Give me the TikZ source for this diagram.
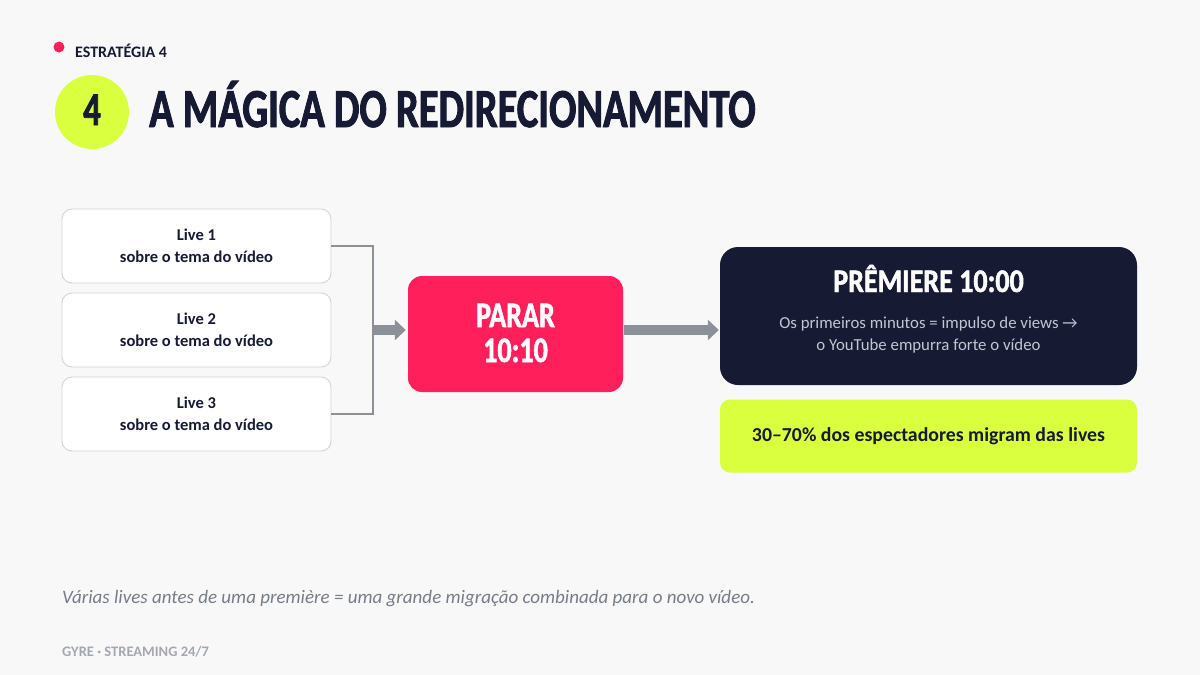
\documentclass[tikz,border=0pt]{standalone}
\usepackage{fontspec}
\setmainfont{Carlito}
\newfontfamily\condT[FakeStretch=0.736,FakeBold=1.6]{Carlito}
\newfontfamily\condP[FakeStretch=0.78,FakeBold=1.4]{Carlito}
\newfontfamily\condQ[FakeStretch=0.85,FakeBold=1.4]{Carlito}
\usetikzlibrary{arrows.meta}
\definecolor{bgc}{HTML}{F8F8F9}
\definecolor{navy}{HTML}{161A33}
\definecolor{redc}{HTML}{FF1F5A}
\definecolor{lime}{HTML}{DAFF3E}
\definecolor{boxline}{HTML}{D2D4D8}
\definecolor{conn}{HTML}{8C9098}
\definecolor{subtxt}{HTML}{C3C6D2}
\definecolor{foot}{HTML}{777C88}
\definecolor{brand}{HTML}{A3A7B0}
\tikzset{
  livebox/.style={draw=boxline, line width=0.9pt, fill=white, rounded corners=10pt, minimum width=269pt, minimum height=74pt, align=center, font=\bfseries\fontsize{16.5}{22}\selectfont, text=navy, inner sep=0pt},
  thinconn/.style={draw=conn, line width=1.6pt},
  fatarrow/.style={draw=conn, line width=10pt, -{Triangle[length=11pt,width=20pt]}},
  stoptxt/.style={inner sep=0pt, anchor=base, text=white, font=\condP\bfseries\fontsize{36}{36}\selectfont},
}
\begin{document}
\begin{tikzpicture}[x=1pt,y=-1pt]
\useasboundingbox (0,0) rectangle (1200,675);
\fill[bgc] (0,0) rectangle (1200,675);
% header
\fill[redc] (59,47) circle (5.5);
\node[anchor=west, inner sep=0pt, text=navy, font=\bfseries\fontsize{16}{16}\selectfont] (kicker) at (75,51) {ESTRATÉGIA 4};
\fill[lime] (92,112) circle (37);
\node[inner sep=0pt, anchor=base, text=navy, font=\condT\bfseries\fontsize{47}{47}\selectfont] (num) at (92,125) {4};
\node[anchor=base west, inner sep=0pt, text=navy, font=\condT\bfseries\fontsize{55}{55}\selectfont] (title) at (149,127) {A MÁGICA DO REDIRECIONAMENTO};
% live boxes
\node[livebox] (l1) at (196.5,246) {Live 1\\sobre o tema do vídeo};
\node[livebox] (l2) at (196.5,330) {Live 2\\sobre o tema do vídeo};
\node[livebox] (l3) at (196.5,414) {Live 3\\sobre o tema do vídeo};
\coordinate (jt) at (373,246);
\coordinate (jb) at (373,414);
\coordinate (jm) at (373,330);
\draw[thinconn] (l1.east) -- (jt) -- (jb) -- (l3.east);
% red box
\node[fill=redc, rounded corners=14pt, minimum width=215pt, minimum height=116pt, inner sep=0pt] (stop) at (515.5,334) {};
\node[stoptxt] (stop1) at (515.5,327) {PARAR};
\node[stoptxt] (stop2) at (515.5,362) {10:10};
\draw[fatarrow] (jm) -- ([xshift=-2pt]stop.west |- jm);
% navy box
\node[fill=navy, rounded corners=18pt, minimum width=417pt, minimum height=138pt, inner sep=0pt] (prem) at (928.5,316) {};
\node[inner sep=0pt, anchor=base, text=white, font=\condQ\bfseries\fontsize{33}{33}\selectfont] (premt) at (928.5,292) {PRÊMIERE 10:00};
\node[inner sep=0pt, text=subtxt, align=center, font=\fontsize{16.8}{22}\selectfont] (prems) at (928.5,335) {Os primeiros minutos = impulso de views →\\o YouTube empurra forte o vídeo};
\draw[fatarrow] ([xshift=1pt]stop.east |- jm) -- ([xshift=-1pt]prem.west |- jm);
% lime box
\node[fill=lime, rounded corners=10pt, minimum width=417pt, minimum height=73pt, inner sep=0pt, text=navy, font=\bfseries\fontsize{19.8}{22}\selectfont] (mig) at (928.5,436) {30–70\% dos espectadores migram das lives};
% footer
\node[anchor=west, inner sep=0pt, text=foot, font=\itshape\fontsize{19}{22}\selectfont] (note) at (62,599) {Várias lives antes de uma première = uma grande migração combinada para o novo vídeo.};
\node[anchor=west, inner sep=0pt, text=brand, font=\bfseries\fontsize{14.5}{15}\selectfont] (brandt) at (62,652) {GYRE · STREAMING 24/7};
\end{tikzpicture}
\end{document}
